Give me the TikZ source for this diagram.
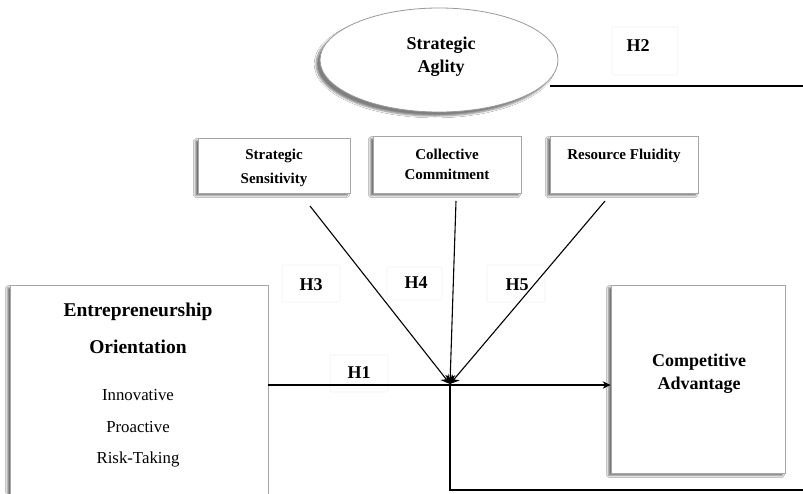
\documentclass[tikz,border=0pt]{standalone}
\usepackage{fontspec}
\setmainfont{Liberation Serif}
\usetikzlibrary{shapes.geometric,shadows.blur,arrows.meta}
\begin{document}
\begin{tikzpicture}[x=1pt,y=-1pt,
  shadowed/.style={blur shadow={shadow xshift=-2.5pt,shadow yshift=-2.5pt,shadow blur steps=4,shadow opacity=55}},
  box/.style={draw=black!35,line width=0.8pt,fill=white,shadowed,inner sep=0pt,align=center},
  smalltxt/.style={font=\bfseries\fontsize{15}{22}\selectfont},
  bigtxt/.style={font=\bfseries\fontsize{18}{23}\selectfont,align=center},
  eotxt/.style={font=\bfseries\fontsize{19.5}{23}\selectfont},
  itemtxt/.style={font=\fontsize{16.8}{19}\selectfont},
  hlab/.style={font=\bfseries\fontsize{18}{20}\selectfont},
  hbox/.style={draw=black!5,line width=0.6pt,rounded corners=2pt},
  conn/.style={line width=1.1pt,black},
  tip/.style={-{Stealth[length=8pt,width=7.5pt]}},
  jtip/.style={-{Stealth[length=9pt,width=10pt]}}
]
\useasboundingbox (0,0) rectangle (803,493);
\fill[white] (0,0) rectangle (803,493);

% ellipse
\node[ellipse,draw=black!40,line width=0.8pt,fill=white,
      blur shadow={shadow xshift=-4pt,shadow yshift=-4pt,shadow blur steps=5,shadow opacity=50},
      minimum width=238pt,minimum height=104pt] (sa) at (439,60) {};
\node[bigtxt] (satxt) at (441,57) {Strategic\\Aglity};

% H2 label
\node[hbox,minimum width=66pt,minimum height=48pt] (h2box) at (645,51) {};
\node[hlab] (h2) at (638,46) {H2};
\coordinate (h2a) at (550,86);
\coordinate (h2b) at (803,86);
\draw[conn] (h2a) -- (h2b);

% dimension boxes
\node[box,minimum width=152pt,minimum height=55pt] (ss) at (274,165.5) {};
\node[smalltxt,align=center] (sstxt) at (274,167.5) {Strategic\\[2pt]Sensitivity};
\node[box,smalltxt,minimum width=148pt,minimum height=57pt] (cc) at (447,164.5) {Collective\\[-2pt]Commitment};
\node[box,smalltxt,minimum width=148pt,minimum height=57pt] (rf) at (624,164.5) {Resource Fluidity\\[-2pt]\phantom{X}};

% EO box
\node[box,minimum width=258pt,minimum height=222pt] (eo) at (139,396) {};
\node[eotxt] (eo1) at (138,312) {Entrepreneurship};
\node[eotxt] (eo2) at (138,347) {Orientation};
\node[itemtxt] (eo3) at (138,395) {Innovative};
\node[itemtxt] (eo4) at (138,427) {Proactive};
\node[itemtxt] (eo5) at (138,459) {Risk-Taking};

% CA box
\node[box,minimum width=174pt,minimum height=188pt] (ca) at (698,379) {};
\node[bigtxt] (catxt) at (699,374) {Competitive\\Advantage};

% hypothesis labels
\node[hbox,minimum width=58pt,minimum height=37pt] (h3box) at (311,283.5) {};
\node[hlab] (h3) at (311,285) {H3};
\node[hbox,minimum width=55pt,minimum height=33pt] (h4box) at (414.5,283.5) {};
\node[hlab] (h4) at (416,283) {H4};
\node[hbox,minimum width=58pt,minimum height=37pt] (h5box) at (516,283.5) {};
\node[hlab] (h5) at (517,285) {H5};
\node[hbox,minimum width=58pt,minimum height=37pt] (h1box) at (359,373.5) {};
\node[hlab] (h1) at (359,373) {H1};

% connectors
\coordinate (J) at (450,384);
\coordinate (Jb) at (450,385);
\coordinate (ssend) at (310,206);
\coordinate (ccend) at (456,201);
\coordinate (rfend) at (605,201);
\coordinate (bot) at (450,490);
\coordinate (botr) at (803,490);

\draw[conn] (eo.east |- Jb) -- (Jb);
\draw[conn,tip] (Jb) -- (ca.west |- Jb);
\draw[conn] (Jb) -- (bot) -- (botr);
\draw[conn,jtip] (ssend) -- (J);
\draw[conn,jtip] (ccend) -- (J);
\draw[conn,jtip] (rfend) -- (J);
\end{tikzpicture}
\end{document}
